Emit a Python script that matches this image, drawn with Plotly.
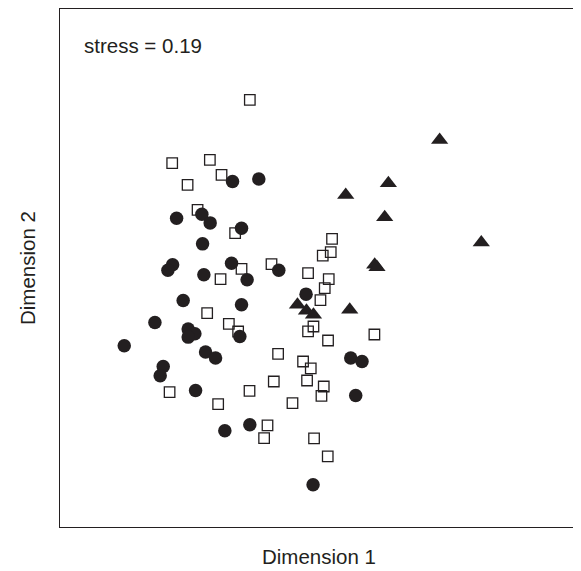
import plotly.graph_objects as go

# MDS ordination scores (arbitrary units)
circle_x = [-0.863, -0.60, -1.17, -1.423, -1.087, -0.773, -1.163, -1.463, -1.51, -0.873,
            -1.15, -0.717, -0.40, -0.127, -1.357, -0.773, -1.64, -1.307, -1.24, -1.307,
            -0.79, -1.947, -1.133, -1.033, -1.557, -1.587, -1.233, -0.69, -0.94, 0.32,
            0.433, 0.37, -0.057]
circle_y = [0.853, 0.88, 0.527, 0.487, 0.44, 0.387, 0.23, 0.02, -0.033, 0.037,
            -0.08, -0.13, -0.033, -0.273, -0.337, -0.38, -0.557, -0.623, -0.67, -0.703,
            -0.697, -0.79, -0.853, -0.913, -0.997, -1.09, -1.237, -1.58, -1.64, -0.913,
            -0.947, -1.287, -2.18]

square_x = [-0.69, -1.467, -1.09, -1.313, -0.973, -1.213, -0.837, -0.983, -0.773, -0.473,
            0.133, 0.12, 0.04, -0.107, 0.10, 0.06, 0.017, -1.117, -0.90, -0.807,
            -0.107, -0.053, 0.093, 0.557, -0.407, -0.157, -0.08, -0.45, -0.117, 0.05,
            0.027, -0.263, -1.493, -0.693, -1.007, -0.513, -0.547, -0.047, 0.09]
square_y = [1.67, 1.037, 1.07, 0.82, 0.92, 0.57, 0.337, -0.123, -0.02, 0.027,
            0.28, 0.147, 0.113, -0.063, -0.123, -0.213, -0.333, -0.463, -0.57, -0.647,
            -0.645, -0.597, -0.737, -0.677, -0.87, -0.947, -1.015, -1.147, -1.137, -1.197,
            -1.29, -1.363, -1.253, -1.24, -1.373, -1.587, -1.713, -1.717, -1.897]

triangle_x = [1.21, 0.697, 0.27, 0.66, 1.627, 0.56, 0.583, 0.31, -0.213, -0.123, -0.053]
triangle_y = [1.27, 0.837, 0.72, 0.497, 0.243, 0.02, -0.003, -0.43, -0.38, -0.44, -0.48]

x_title = "Dimension 1"
y_title = "Dimension 2"
stress_label = "stress = 0.19"

ink = "#231f20"
font_family = "Liberation Sans, Arial, Helvetica, sans-serif"

fig = go.Figure()
fig.add_trace(go.Scatter(
    x=square_x, y=square_y, mode="markers", name="squares",
    marker=dict(symbol="square-open", size=10.5, color=ink, line=dict(width=1.3, color=ink)),
))
fig.add_trace(go.Scatter(
    x=circle_x, y=circle_y, mode="markers", name="circles",
    marker=dict(symbol="circle", size=13.5, color=ink, line=dict(width=0)),
))
fig.add_trace(go.Scatter(
    x=triangle_x, y=triangle_y, mode="markers", name="triangles",
    marker=dict(symbol="triangle-up", size=15, color=ink, line=dict(width=0)),
))

axis_common = dict(
    showgrid=False, zeroline=False, showticklabels=False, ticks="",
    showline=True, mirror=True, linecolor=ink, linewidth=1.4,
    automargin=False,
)

text_font = dict(family=font_family, size=20.5, color=ink)

# the page body adds an 8px offset, so the figure is sized to fit the window
fig.update_layout(
    width=573, height=563,
    margin=dict(l=52, r=2.5, t=1, b=43.7),
    paper_bgcolor="white", plot_bgcolor="white",
    showlegend=False,
    font=dict(family=font_family, color=ink),
    xaxis=dict(range=[-2.59, 2.595], **axis_common),
    yaxis=dict(range=[-2.603, 2.58], **axis_common),
    annotations=[
        dict(text=stress_label, xref="paper", yref="paper", x=0.0424, y=0.9305,
             xanchor="left", yanchor="middle", showarrow=False, font=text_font),
        dict(text=x_title, xref="paper", yref="paper", x=0.5, y=-0.0573,
             xanchor="center", yanchor="middle", showarrow=False, font=text_font),
        dict(text=y_title, xref="paper", yref="paper", x=-0.0636, y=0.5,
             xanchor="center", yanchor="middle", showarrow=False, textangle=-90,
             font=text_font),
    ],
)

fig.write_html("out.html")
